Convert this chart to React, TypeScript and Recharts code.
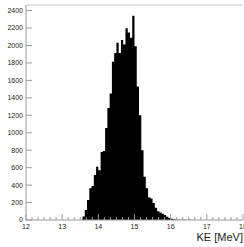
import { ComposedChart, Area, XAxis, YAxis, ReferenceLine, Label } from 'recharts';

// histogram bins (low edge, MeV) and counts
const binLow = [
  13.5625, 13.625, 13.6875, 13.75, 13.8125, 13.875, 13.9375, 14.0,
  14.0625, 14.125, 14.1875, 14.25, 14.3125, 14.375, 14.4375, 14.5,
  14.5625, 14.625, 14.6875, 14.75, 14.8125, 14.875, 14.9375, 15.0,
  15.0625, 15.125, 15.1875, 15.25, 15.3125, 15.375, 15.4375, 15.5,
  15.5625, 15.625, 15.6875, 15.75, 15.8125, 15.875, 15.9375, 16.0,
  16.0625, 16.125, 16.1875, 16.25, 16.3125, 16.375, 16.4375, 16.5,
  16.5625,
];
const counts = [
  40, 115, 230, 365, 390, 515, 610, 570,
  780, 790, 1055, 1285, 1450, 1815, 1915, 2030,
  1915, 2064, 2010, 2198, 2150, 2090, 2340, 1990,
  1529, 1200, 800, 497, 365, 260, 245, 195,
  140, 100, 85, 72, 57, 38, 22, 15,
  8, 6, 4, 3, 2, 3, 1, 2,
  0,
];

const majorX = [12, 13, 14, 15, 16, 17, 18];
const minorPerMajor = 6;
const yTicks = [0, 200, 400, 600, 800, 1000, 1200, 1400, 1600, 1800, 2000, 2200, 2400];
const yMax = 2464;

const data = binLow.map((x, i) => ({ x, count: counts[i] }));

const xTicks: number[] = [];
majorX.forEach((m, i) => {
  xTicks.push(m);
  if (i < majorX.length - 1) {
    for (let k = 1; k < minorPerMajor; k++) xTicks.push(m + k / minorPerMajor);
  }
});

const axisColor = '#9a9a9a';
const textColor = '#222';
const font = '"Liberation Sans", Arial, Helvetica, sans-serif';

const XTick = ({ x, y, payload }: any) => {
  const v = payload.value;
  const major = Math.abs(v - Math.round(v)) < 1e-6;
  return (
    <g>
      <line x1={x} x2={x} y1={y} y2={y - (major ? 6 : 3)} stroke={axisColor} />
      {major && (
        <text x={x} y={y + 8.5} textAnchor="middle" fontSize={7} fontFamily={font} fill={textColor}>
          {Math.round(v)}
        </text>
      )}
    </g>
  );
};

const YTick = ({ x, y, payload }: any) => (
  <g>
    <line x1={x} x2={x + 6} y1={y} y2={y} stroke={axisColor} />
    <text x={x - 3} y={y} dy="0.35em" textAnchor="end" fontSize={7} fontFamily={font} fill={textColor}>
      {payload.value}
    </text>
  </g>
);

export default function App() {
  return (
    <div style={{ position: 'absolute', left: 0, top: 0, background: '#fff' }}>
      <ComposedChart width={244} height={247} data={data} margin={{ top: 5, right: 1, left: 0, bottom: 0 }}>
        <XAxis
          dataKey="x"
          type="number"
          domain={[12, 18]}
          ticks={xTicks}
          interval={0}
          tick={<XTick />}
          tickSize={0}
          tickMargin={0}
          height={27}
          stroke={axisColor}
          allowDataOverflow
        >
          <Label
            content={() => (
              <text x={243} y={241} textAnchor="end" fontSize={11} fontFamily={font} fill={textColor}>
                KE [MeV]
              </text>
            )}
          />
        </XAxis>
        <YAxis
          type="number"
          domain={[0, yMax]}
          ticks={yTicks}
          interval={0}
          tick={<YTick />}
          tickSize={0}
          tickMargin={0}
          width={26}
          stroke={axisColor}
          allowDataOverflow
        />
        <ReferenceLine y={yMax} stroke="#c8c8c8" />
        <Area
          type="stepAfter"
          dataKey="count"
          fill="#000"
          fillOpacity={1}
          stroke="none"
          baseValue={0}
          isAnimationActive={false}
        />
      </ComposedChart>
    </div>
  );
}
